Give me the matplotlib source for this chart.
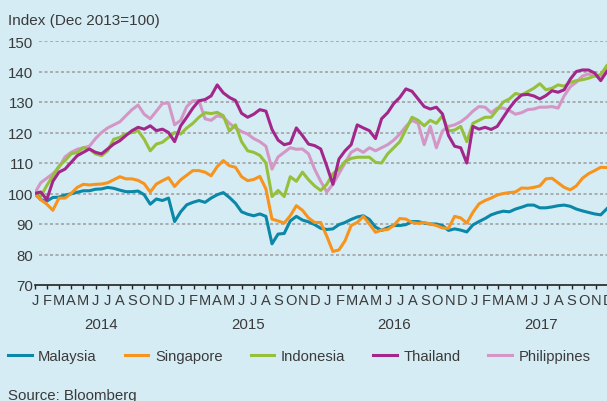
import pandas as pd
import matplotlib
matplotlib.use('Agg')
import matplotlib.pyplot as plt
import matplotlib.dates as mdates
import matplotlib.transforms as mtransforms
from matplotlib.ticker import FuncFormatter

plt.rcParams['font.family'] = ['Liberation Sans', 'DejaVu Sans']

# half-monthly readings, end Dec 2013 to end Nov 2017
dates = pd.date_range('2013-12-31', '2017-11-28', periods=95)

malaysia = [100, 98, 97.5, 98.7, 98.8, 99.5, 99.9, 100.4, 100.9, 100.9,
            101.4, 101.5, 102, 101.7, 101.1, 100.6, 100.6, 100.8, 99.6, 96.5,
            98.2, 97.7, 98.5, 90.8, 94, 96.3, 97.1, 97.7, 97.1, 98.5,
            99.6, 100.3, 98.7, 96.8, 94, 93.2, 92.7, 93.3, 92.5, 83.5,
            86.7, 86.9, 91, 92.5, 91.3, 90.7, 89.8, 88.6, 88.2, 88.4,
            89.8, 90.5, 91.5, 92.3, 92.7, 91.5, 89, 87.9, 88.8, 89.5,
            89.5, 89.8, 90.8, 90.8, 90.3, 90, 90, 89.5, 87.9, 88.4,
            88, 87.4, 89.7, 90.8, 91.8, 93, 93.7, 94.2, 94, 94.9,
            95.5, 96.2, 96.2, 95.3, 95.3, 95.6, 96, 96.2, 95.8, 94.9,
            94.3, 93.8, 93.3, 93, 95]
singapore = [100, 98, 96.5, 94.5, 98.5, 98.5, 100, 102, 103, 102.8,
             103, 103.1, 103.5, 104.5, 105.5, 104.8, 104.8, 104.3, 103.2, 100.5,
             103.1, 104.2, 105.2, 102.3, 104.5, 106, 107.5, 107.5, 107, 105.8,
             108.8, 110.8, 109.1, 108.6, 105.5, 104.2, 104.6, 105.6, 101.5, 91.6,
             91, 90.3, 92.7, 96, 94.5, 92, 90.5, 90.5, 86, 81,
             81.5, 84.5, 89.5, 90.5, 92.5, 90, 87.3, 88, 88.2, 89.5,
             91.8, 91.6, 90.5, 90.2, 90.5, 90, 89.5, 88.7, 88.6, 92.5,
             92, 90.3, 93.8, 96.6, 97.7, 98.5, 99.5, 100, 100.3, 100.5,
             101.8, 101.7, 102, 102.5, 104.8, 105, 103.5, 102, 101.2, 102.5,
             105, 106.5, 107.5, 108.6, 108.5]
indonesia = [100, 99, 102.6, 105.8, 109, 110.8, 113, 113.5, 115, 114.6,
             113, 112.4, 114, 117.8, 118.4, 119.5, 120, 120.6, 117.8, 114,
             116.2, 116.8, 118.4, 120, 119.5, 121.5, 123, 125, 126.5, 126.2,
             126.6, 125.5, 120.5, 122.5, 117, 114, 113.5, 112.5, 110, 99,
             101, 99, 105.5, 104, 107, 104.5, 102.5, 101, 103, 106.5,
             108, 110.5, 111.5, 111.9, 111.9, 111.9, 110.2, 110, 113, 115,
             117, 121, 125, 124, 122.2, 124, 123, 125.5, 120.5, 120.8,
             122, 117, 123, 124, 125, 125, 127.5, 130, 131, 132.8,
             132.3, 133.4, 134.5, 136, 134, 134.5, 135.6, 135.2, 136.4, 137,
             137.3, 137.8, 138.5, 139, 141.9]
thailand = [100, 100.5, 98, 104, 107, 108, 110.2, 112.4, 113.5, 114.6,
            113.5, 113, 114.6, 116.2, 117.3, 119, 120.6, 121.7, 121.1, 122.2,
            120.6, 121.1, 120, 117, 122.2, 125, 128, 130.4, 130.8, 132,
            135.6, 133, 131.5, 130.5, 126.3, 125, 126, 127.5, 127, 121,
            117.5, 116, 116.5, 121.5, 119, 116.2, 115.7, 114.6, 109, 103,
            111.3, 114, 116, 122.5, 121.5, 120.6, 118, 124.5, 126.5, 129.5,
            131.5, 134.3, 133.5, 131, 128.5, 127.7, 128.3, 126.1, 119, 115.5,
            115, 110, 122, 121.1, 121.7, 121, 122, 125, 128, 130.5,
            132.3, 132.5, 132, 131, 132.1, 133.7, 133.2, 134, 137.5, 140,
            140.5, 140.5, 139.5, 137, 140]
philippines = [100, 103.5, 105, 106.5, 108.5, 112, 113.5, 114.5, 115, 115.5,
               118, 120, 121.5, 122.5, 123.5, 125.5, 127.5, 129, 126, 124.5,
               127, 129.5, 129.7, 122.5, 124, 128.5, 130.4, 130.4, 124.5, 124,
               125.5, 125, 123, 121.5, 120.3, 119.5, 118, 117, 115.5, 108,
               112, 113.5, 115, 114.5, 114.6, 113, 108, 104, 100.5, 103,
               106.5, 110, 113.5, 114.6, 113.5, 115, 114, 115, 116, 117.5,
               119.5, 122, 124, 123, 116, 122, 115, 120.5, 122, 122.5,
               123.5, 125, 127, 128.5, 128.3, 126.5, 128, 128, 127.2, 126,
               126.5, 127.5, 127.7, 128.3, 128.3, 128.5, 128, 132, 135, 136.5,
               138.5, 139.2, 138.5, 138.5, 141]

years = [2014, 2015, 2016, 2017]

bg = '#d5ecf4'
txt = '#3a3a3a'

fig = plt.figure(figsize=(6.07, 4.02), dpi=100, facecolor=bg)
ax = fig.add_axes([35 / 607, 116 / 402, 573 / 607, 244 / 402], facecolor=bg)

# dotted grid
for v in range(80, 151, 10):
    ax.axhline(v, xmin=4 / 573, color='#9c9c9c', lw=1.1, ls=(0, (2, 1.6)), zorder=0)

l_ph, = ax.plot(dates, philippines, color='#d497c5', lw=2.2, label='Philippines')
l_id, = ax.plot(dates, indonesia, color='#96c03c', lw=2.2, label='Indonesia')
l_my, = ax.plot(dates, malaysia, color='#0b87a8', lw=2.2, label='Malaysia')
l_sg, = ax.plot(dates, singapore, color='#f7941d', lw=2.2, label='Singapore')
l_th, = ax.plot(dates, thailand, color='#a3278b', lw=2.2, label='Thailand')

ax.set_xlim(mdates.date2num(pd.Timestamp('2014-01-01')), mdates.date2num(pd.Timestamp('2017-12-01')))
ax.set_ylim(70, 150)
ax.set_yticks(range(70, 151, 10))

ax.xaxis.set_major_locator(mdates.MonthLocator())
ax.xaxis.set_major_formatter(FuncFormatter(lambda x, p: mdates.num2date(x).strftime('%b')[0]))

for s in ['left', 'right', 'top']:
    ax.spines[s].set_visible(False)
ax.spines['bottom'].set_color('#222222')
ax.spines['bottom'].set_linewidth(1.2)

ax.tick_params(axis='y', length=0, pad=1, labelsize=10.8, labelcolor=txt)
ax.tick_params(axis='x', length=3, width=1, color='#222222', pad=3, labelsize=10.5, labelcolor=txt)

trans = mtransforms.blended_transform_factory(ax.transData, ax.transAxes)
for yr in years:
    ax.text(mdates.date2num(pd.Timestamp(f'{yr}-06-16')), -0.158, str(yr), transform=trans,
            ha='center', va='center', fontsize=10.8, color=txt)

fig.text(8 / 607, 1 - 25 / 402, 'Index (Dec 2013=100)', ha='left', va='baseline', fontsize=11, color=txt)
fig.text(8 / 607, 2 / 402, 'Source: Bloomberg', ha='left', va='baseline', fontsize=10.8, color=txt)

fig.legend([l_my, l_sg, l_id, l_th, l_ph], ['Malaysia', 'Singapore', 'Indonesia', 'Thailand', 'Philippines'],
           loc='center left', bbox_to_anchor=(8 / 607, 1 - 357 / 402), ncol=5, frameon=False,
           handlelength=1.6, handletextpad=0.45, columnspacing=1.9, borderaxespad=0, borderpad=0,
           fontsize=10.6, labelcolor=txt)

fig.savefig('out.png', dpi=100, facecolor=bg)
